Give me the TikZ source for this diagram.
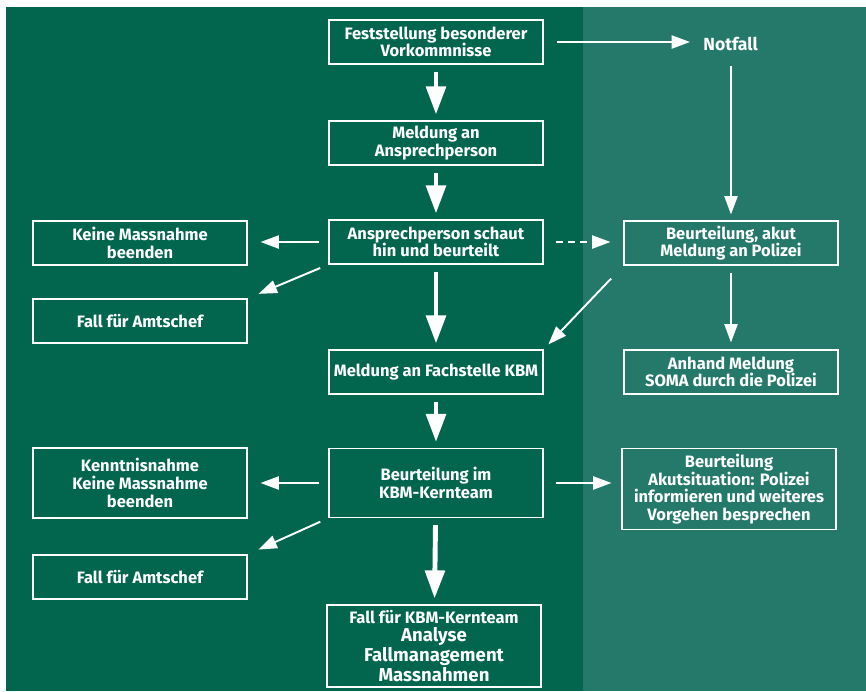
\documentclass[tikz,border=0pt]{standalone}
\usepackage{fontspec}
\setmainfont{Fira Sans}
\usetikzlibrary{arrows.meta}
\definecolor{kbmdark}{HTML}{02664F}
\definecolor{kbmlight}{HTML}{24796A}

\begin{document}
\begin{tikzpicture}[x=0.02cm,y=-0.02cm,
  box/.style={draw=white,line width=0.6pt,text=white,align=center,
    minimum width=4.28cm,minimum height=0.88cm,inner sep=2pt,
    font=\bfseries\fontsize{9.4}{10}\selectfont},
  bigflow/.style={white,line width=2.8pt,-{Triangle[length=16pt,width=11pt]},
    shorten <=0.14cm,shorten >=0.12cm},
  flow/.style={white,line width=1.1pt,-{Triangle[length=10.5pt,width=7.5pt]}}]
\useasboundingbox (0,0) rectangle (866,691);
\fill[white] (0,0) rectangle (866,691);
\fill[kbmdark] (6,7) rectangle (583,691);
\fill[kbmlight] (583,7) rectangle (866,691);

\node[box] (feststellung) at (436,42) {Feststellung besonderer\\Vorkommnisse};
\node[box] (meldungAP) at (436,143) {Meldung an\\Ansprechperson};
\node[box] (apBeurteilt) at (436,242) {Ansprechperson schaut\\hin und beurteilt};
\node[box] (keineMass) at (140,243) {Keine Massnahme\\beenden};
\node[box] (amtschefA) at (140,321) {Fall für Amtschef};
\node[box] (polizei) at (731,243) {Beurteilung, akut\\Meldung an Polizei};
\node[box] (fachstelle) at (436,372) {Meldung an Fachstelle KBM};
\node[box] (soma) at (731,372) {Anhand Meldung\\SOMA durch die Polizei};
\node[box,minimum height=1.38cm] (kernteam) at (436,483) {Beurteilung im\\KBM-Kernteam};
\node[box,minimum height=1.4cm] (kenntnis) at (140,483) {Kenntnisnahme\\Keine Massnahme\\beenden};
\node[box] (amtschefB) at (140,577) {Fall für Amtschef};
\node[box,minimum height=1.62cm] (akut) at (729,489) {Beurteilung\\Akutsituation: Polizei\\informieren und weiteres\\Vorgehen besprechen};
\node[box,minimum height=1.64cm] (fallKern) at (434,646) {Fall für KBM-Kernteam\\{\fontsize{10.6}{10.6}\selectfont Analyse}\\{\fontsize{10.6}{10.6}\selectfont Fallmanagement}\\{\fontsize{10.6}{10.6}\selectfont Massnahmen}};
\node[text=white,inner sep=0pt,anchor=west,font=\bfseries\fontsize{10}{12}\selectfont] (notfall) at (703,44) {Notfall};

\draw[bigflow] (feststellung) -- (meldungAP);
\draw[bigflow] (meldungAP) -- (apBeurteilt);
\draw[bigflow] (apBeurteilt) -- (fachstelle);
\draw[bigflow] (fachstelle) -- (kernteam);
\draw[bigflow] (kernteam) -- (fallKern);

\draw[flow,shorten <=0.26cm,shorten >=0.26cm] (feststellung.east) -- (feststellung.east -| notfall.west);
\draw[flow,shorten <=0.3cm,shorten >=0.12cm] (notfall.south -| polizei.north) -- (polizei.north);
\draw[flow,shorten <=0.18cm,shorten >=0.26cm] (apBeurteilt.west) -- (apBeurteilt.west -| keineMass.east);
\draw[flow,shorten <=0.18cm,shorten >=0.24cm] (apBeurteilt.south west) -- (amtschefA.north east);
\draw[flow,dash pattern=on 4pt off 3pt,shorten <=0.24cm,shorten >=0.26cm] (apBeurteilt.east) -- (apBeurteilt.east -| polizei.west);
\draw[flow,shorten <=0.36cm,shorten >=0.14cm] (polizei.south west) -- (fachstelle.north east);
\draw[flow,shorten <=0.14cm,shorten >=0.14cm] (polizei) -- (soma);
\draw[flow,shorten <=0.18cm,shorten >=0.26cm] (kernteam.west) -- (kernteam.west -| kenntnis.east);
\draw[flow,shorten <=0.18cm,shorten >=0.24cm] (kernteam.south west) -- (amtschefB.north east);
\draw[flow,shorten <=0.24cm,shorten >=0.2cm] (kernteam.east) -- (kernteam.east -| akut.west);
\end{tikzpicture}
\end{document}
